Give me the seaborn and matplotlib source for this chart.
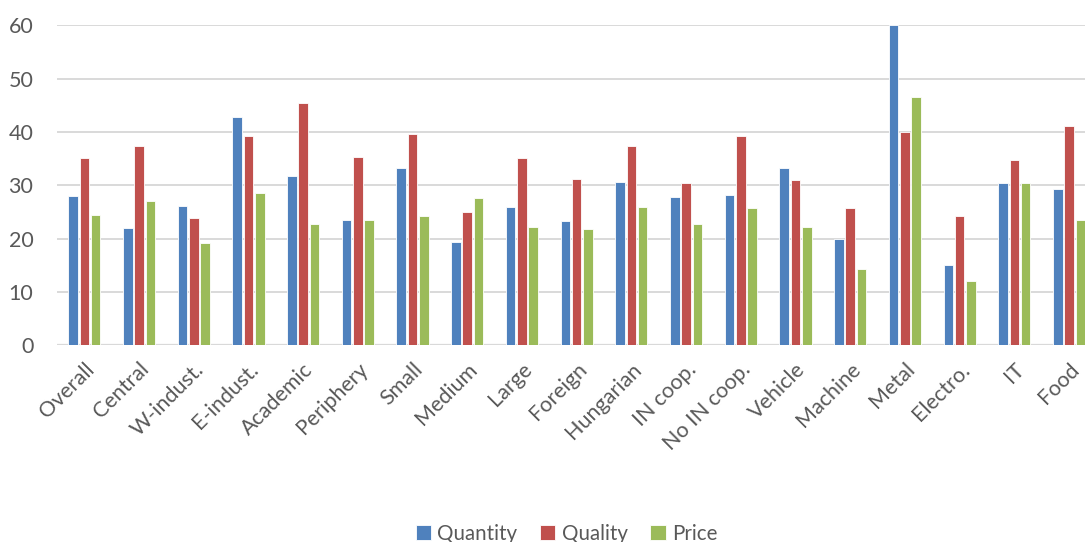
"""
Grouped bar chart: Quantity / Quality / Price by firm group.
"""

import matplotlib.pyplot as plt
import pandas as pd
import seaborn as sns


CATEGORIES = [
    "Overall", "Central", "W-indust.", "E-indust.", "Academic", "Periphery",
    "Small", "Medium", "Large", "Foreign", "Hungarian", "IN coop.",
    "No IN coop.", "Vehicle", "Machine", "Metal", "Electro.", "IT", "Food",
]
QUANTITY = [28.0, 22.0, 26.2, 42.9, 31.8, 23.5, 33.3, 19.4, 25.9, 23.4,
            30.7, 27.8, 28.1, 33.3, 20.0, 60.0, 15.1, 30.4, 29.4]
QUALITY = [35.1, 37.3, 23.8, 39.3, 45.5, 35.3, 39.7, 25.0, 35.2, 31.2,
           37.4, 30.4, 39.3, 31.1, 25.7, 40.0, 24.2, 34.7, 41.2]
PRICE = [24.4, 27.1, 19.1, 28.6, 22.7, 23.5, 24.3, 27.7, 22.2, 21.8,
         25.9, 22.8, 25.8, 22.2, 14.3, 46.6, 12.1, 30.4, 23.5]
SERIES = ["Quantity", "Quality", "Price"]
COLORS = ["#4F81BD", "#C0504D", "#9BBB59"]
TEXT_COLOR = "#595959"


def main() -> None:
    sns.set_theme(style="white")
    plt.rcParams["font.family"] = ["Lato", "DejaVu Sans"]

    df = pd.DataFrame({"Group": CATEGORIES, "Quantity": QUANTITY,
                       "Quality": QUALITY, "Price": PRICE})
    long_df = df.melt(id_vars="Group", var_name="Measure", value_name="Value")

    fig = plt.figure(figsize=(10.85, 5.42), dpi=100)
    ax = fig.add_axes([0.0525, 0.363, 0.958, 0.59])

    sns.barplot(data=long_df, x="Group", y="Value", hue="Measure",
                hue_order=SERIES, palette=COLORS, order=CATEGORIES,
                width=0.62, gap=0.15, edgecolor="white", linewidth=0.6,
                saturation=1, ax=ax)

    ax.set_ylim(0, 60)
    ax.set_yticks(range(0, 61, 10))
    ax.set_xlim(-0.5, len(CATEGORIES) - 0.5)
    ax.yaxis.grid(True, color="#D9D9D9", linewidth=1.4)
    ax.set_axisbelow(True)
    for side in ["top", "right", "left", "bottom"]:
        ax.spines[side].set_visible(False)
    ax.axhline(0, color="#D9D9D9", linewidth=1.6, zorder=0.5)
    ax.set_xlabel("")
    ax.set_ylabel("")
    ax.tick_params(axis="both", length=0, labelsize=15.5, colors=TEXT_COLOR)
    ax.tick_params(axis="y", pad=17)
    ax.tick_params(axis="x", pad=10)
    plt.setp(ax.get_xticklabels(), rotation=45, ha="right",
             rotation_mode="anchor")

    handles, labels = ax.get_legend_handles_labels()
    ax.legend_.remove()
    fig.legend(handles, labels, loc="lower center", ncol=3, frameon=False,
               bbox_to_anchor=(0.522, -0.038), fontsize=14.8,
               labelcolor=TEXT_COLOR, handlelength=0.75, handleheight=0.75,
               handletextpad=0.3, columnspacing=1.1)

    fig.savefig("out.png", dpi=100)
    plt.close(fig)


if __name__ == "__main__":
    main()
